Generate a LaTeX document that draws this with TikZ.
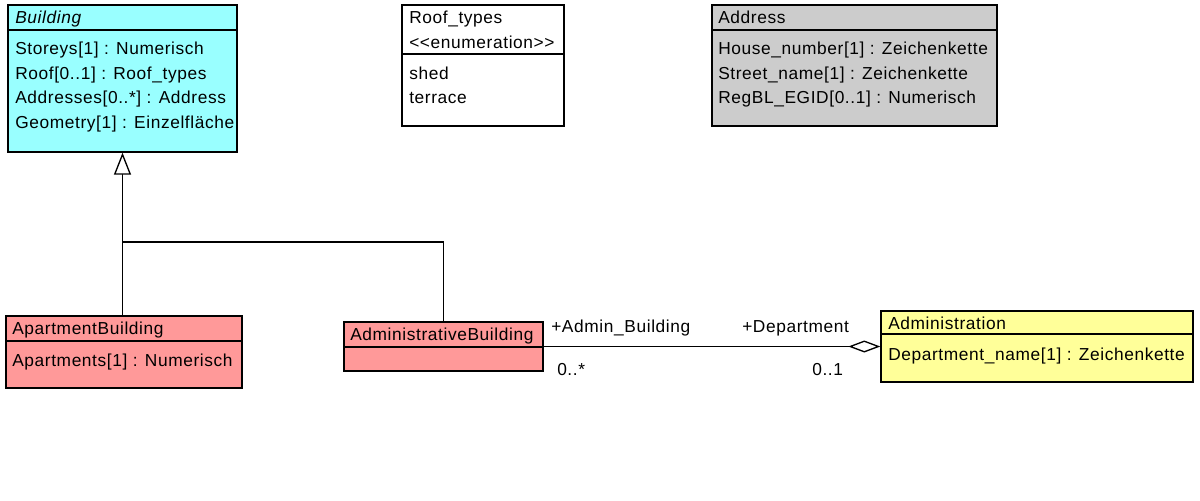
\documentclass[tikz,border=0pt]{standalone}
\usepackage{fontspec}
\newfontfamily\umlfont{Liberation Sans}[LetterSpace=3.5]
\usepackage{tikz}
\usetikzlibrary{arrows.meta}
\usetikzlibrary{fit}
\definecolor{abstractcol}{RGB}{153,255,255}
\definecolor{classcol}{RGB}{255,153,153}
\definecolor{enumcol}{RGB}{255,255,255}
\definecolor{extcol}{RGB}{204,204,204}
\definecolor{assoccol}{RGB}{255,255,153}
\tikzstyle{cls}=[rectangle,draw=black,line width=1pt,inner sep=0mm]
\tikzstyle{txt}=[inner sep=0mm,anchor=mid west,font=\umlfont\fontsize{13}{15}\selectfont]
\tikzstyle{gen}=[-{Triangle[open,length=16.5pt,width=12.75pt,fill=white]},line width=1pt]
\tikzstyle{aggr}=[-{Diamond[open,length=24pt,width=9pt,fill=white]},line width=1pt]

\begin{document}
\begin{tikzpicture}[x=0.75pt,y=-0.75pt]
      \useasboundingbox (0,0) rectangle (1200,500);
      % classes
      \node[cls,fill=abstractcol,fit={(8,5) (237,152)}] (bld) {};
      \node[cls,fill=enumcol,fit={(402,5) (564,126)}] (roof) {};
      \node[cls,fill=extcol,fit={(712,5) (997,126)}] (addr) {};
      \node[cls,fill=classcol,fit={(6,316) (242,388)}] (apt) {};
      \node[cls,fill=classcol,fit={(344,322) (543,371)}] (admbld) {};
      \node[cls,fill=assoccol,fit={(881,311) (1193,382)}] (admin) {};
      \draw[line width=1pt] (bld.west |- 0,30) -- (bld.east |- 0,30);
      \draw[line width=1pt] (roof.west |- 0,54) -- (roof.east |- 0,54);
      \draw[line width=1pt] (addr.west |- 0,30) -- (addr.east |- 0,30);
      \draw[line width=1pt] (apt.west |- 0,341) -- (apt.east |- 0,341);
      \draw[line width=1pt] (admbld.west |- 0,347) -- (admbld.east |- 0,347);
      \draw[line width=1pt] (admin.west |- 0,334) -- (admin.east |- 0,334);
      % texts
      \node[txt] at (15,21) (bldname) {\itshape Building};
      \node[txt] at (15,52) (bld1) {Storeys[1] : Numerisch};
      \node[txt] at (15,77) (bld2) {Roof[0..1] : Roof\_types};
      \node[txt] at (15,101) (bld3) {Addresses[0..*] : Address};
      \node[txt] at (15,126) (bld4) {Geometry[1] : Einzelfläche};
      \node[txt] at (409,21) (roofname) {Roof\_types};
      \node[txt] at (409,46) (roofst) {{<}{<}enumeration{>}{>}};
      \node[txt] at (409,77) (roof1) {shed};
      \node[txt] at (409,101) (roof2) {terrace};
      \node[txt] at (718,21) (addrname) {Address};
      \node[txt] at (718,52) (addr1) {House\_number[1] : Zeichenkette};
      \node[txt] at (718,77) (addr2) {Street\_name[1] : Zeichenkette};
      \node[txt] at (718,101) (addr3) {RegBL\_EGID[0..1] : Numerisch};
      \node[txt] at (12,332) (aptname) {ApartmentBuilding};
      \node[txt] at (12,364) (apt1) {Apartments[1] : Numerisch};
      \node[txt] at (350,338) (admbldname) {AdministrativeBuilding};
      \node[txt] at (888,327) (adminname) {Administration};
      \node[txt] at (888,358) (admin1) {Department\_name[1] : Zeichenkette};
      % generalization
      \coordinate (joint) at (bld.south |- 0,242);
      \draw[gen] (joint) -- (bld.south);
      \draw[line width=1pt] (apt.north -| joint) -- (joint) -| (admbld.north);
      % association
      \draw[aggr] (admbld.east) -- (admin.west);
      \node[txt] at (551,330) (rolea) {+Admin\_Building};
      \node[txt] at (557,373) (multa) {0..*};
      \node[txt] at (742,330) (roleb) {+Department};
      \node[txt] at (812,373) (multb) {0..1};
\end{tikzpicture}
\end{document}
